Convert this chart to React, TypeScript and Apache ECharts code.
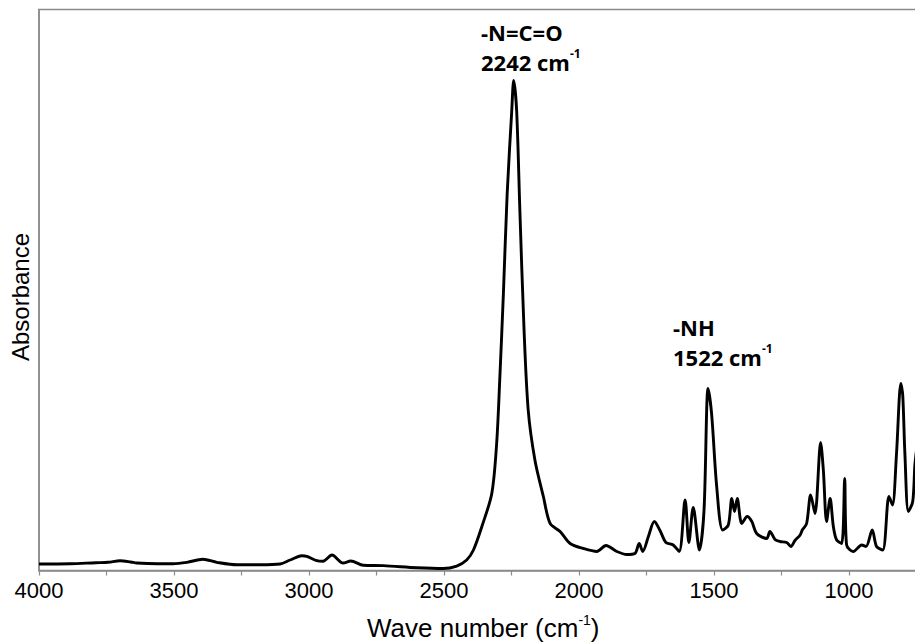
import React, { useEffect, useRef } from 'react';
import * as echarts from 'echarts';

// Wave number (cm-1) sample positions
const wavenumbers = [
  4000, 3885, 3790, 3744, 3700, 3660, 3638, 3560, 3503, 3452, 3393, 3341, 3267, 3180, 3107, 3070,
  3027, 3008, 2971, 2948, 2915, 2874, 2845, 2799, 2725, 2600, 2503, 2453, 2416, 2391, 2360, 2323,
  2305, 2293, 2280, 2266, 2249, 2242, 2231, 2219, 2204, 2188, 2163, 2132, 2107, 2070, 2033, 1984,
  1934, 1900, 1860, 1823, 1793, 1777, 1764, 1743, 1721, 1700, 1678, 1651, 1629, 1607, 1593, 1577,
  1554, 1537, 1522, 1509, 1490, 1468, 1447, 1434, 1424, 1414, 1397, 1377, 1360, 1342, 1305, 1293,
  1274, 1256, 1231, 1215, 1200, 1181, 1173, 1157, 1142, 1126, 1105, 1095, 1083, 1070, 1058, 1046,
  1027, 1016, 1009, 984, 953, 937, 914, 898, 875, 852, 839, 824, 808, 801, 793, 780,
  764, 756, 750,
];

// Absorbance (arbitrary units, % of the plotted range)
const absorbance = [
  1.16, 1.21, 1.39, 1.46, 1.75, 1.52, 1.34, 1.21, 1.21, 1.46, 2.0, 1.46, 1.03, 1.03, 1.16, 1.87,
  2.64, 2.53, 1.75, 1.64, 2.76, 1.34, 1.69, 0.93, 0.86, 0.5, 0.36, 0.8, 1.87, 3.65, 7.81, 13.73,
  22.64, 34.58, 49.38, 67.2, 82.0, 87.34, 82.0, 64.17, 43.49, 28.52, 19.61, 13.19, 8.38, 6.95, 4.81, 3.92,
  3.39, 4.46, 3.39, 2.85, 3.03, 4.81, 3.39, 6.06, 8.73, 7.13, 4.99, 4.55, 3.39, 12.57, 4.99, 11.23,
  3.65, 10.7, 32.44, 27.99, 14.97, 7.22, 8.11, 12.83, 10.52, 12.83, 8.38, 9.63, 8.73, 6.6, 5.7, 6.95,
  5.53, 5.17, 4.99, 4.28, 5.35, 6.33, 7.22, 8.38, 13.46, 10.16, 22.82, 17.91, 8.73, 12.83, 7.84, 5.44,
  4.81, 16.4, 4.55, 3.39, 4.55, 4.28, 7.22, 4.28, 3.65, 13.19, 11.68, 20.86, 33.33, 31.28, 20.86, 10.52,
  12.3, 18.81, 21.39,
];

const xTickLabels = [4000, 3500, 3000, 2500, 2000, 1500, 1000];

const peakLabels = [
  { group: '-N=C=O', value: '2242' },
  { group: '-NH', value: '1522' },
];

export default function App() {
  const ref = useRef<HTMLDivElement>(null);

  useEffect(() => {
    if (!ref.current) return;
    const chart = echarts.init(ref.current, null, { renderer: 'svg' });
    const axisGray = '#8a8a8a';
    const annFont = '"Open Sans", "Liberation Sans", sans-serif';
    const richAnn = {
      a: { fontFamily: annFont, fontWeight: 'bold', fontSize: 22, color: '#000', lineHeight: 30 },
      s: { fontFamily: annFont, fontWeight: 'bold', fontSize: 12, color: '#000', lineHeight: 14, verticalAlign: 'top' },
    };
    chart.setOption({
      animation: false,
      backgroundColor: '#ffffff',
      grid: {
        left: 39,
        top: 9.5,
        width: 877.5,
        height: 561,
        show: true,
        borderColor: axisGray,
        borderWidth: 1.5,
        containLabel: false,
        outerBoundsMode: 'none',
      },
      xAxis: {
        type: 'value',
        inverse: true,
        min: 750,
        max: 4000,
        interval: 250,
        name: '{a|Wave number (cm}{s|-1}{a|)}',
        nameLocation: 'middle',
        nameGap: 42,
        nameTextStyle: {
          padding: [0, 0, 0, 11],
          rich: {
            a: { fontFamily: '"Liberation Sans", Arial, sans-serif', fontSize: 26, color: '#000', lineHeight: 30 },
            s: { fontFamily: '"Liberation Sans", Arial, sans-serif', fontSize: 14, color: '#000', lineHeight: 22, verticalAlign: 'top' },
          },
        },
        axisLine: { show: true, lineStyle: { color: axisGray, width: 1.5 } },
        axisTick: { show: true, inside: false, length: 5, lineStyle: { color: axisGray, width: 1.2 } },
        axisLabel: {
          margin: 9,
          fontFamily: '"Liberation Sans", Arial, sans-serif',
          fontSize: 22,
          color: '#000',
          formatter: (v: number) => (xTickLabels.includes(v) ? String(v) : ''),
        },
        splitLine: { show: false },
      },
      yAxis: {
        type: 'value',
        min: 0,
        max: 100,
        name: 'Absorbance',
        nameLocation: 'middle',
        nameRotate: 90,
        nameGap: 7,
        nameTextStyle: {
          fontFamily: '"Liberation Sans", Arial, sans-serif',
          fontSize: 24,
          color: '#000',
          padding: [0, 14, 0, 0],
        },
        axisLine: { show: true, lineStyle: { color: axisGray, width: 1.5 } },
        axisTick: { show: false },
        axisLabel: { show: false },
        splitLine: { show: false },
      },
      series: [
        {
          type: 'line',
          data: wavenumbers.map((w, i) => [w, absorbance[i]]),
          showSymbol: false,
          symbol: 'none',
          smooth: 0.3,
          lineStyle: { color: '#000', width: 2.9 },
          silent: true,
        },
      ],
      graphic: [
        {
          type: 'text',
          left: 481,
          top: 21,
          style: {
            text: `{a|${peakLabels[0].group}}\n{a|${peakLabels[0].value} cm}{s|-1}`,
            rich: richAnn,
          },
        },
        {
          type: 'text',
          left: 673,
          top: 316,
          style: {
            text: `{a|${peakLabels[1].group}}\n{a|${peakLabels[1].value} cm}{s|-1}`,
            rich: richAnn,
          },
        },
      ],
    });
    return () => chart.dispose();
  }, []);

  return (
    <div
      ref={ref}
      style={{ position: 'fixed', left: 0, top: 0, width: 915, height: 643, background: '#fff' }}
    />
  );
}
